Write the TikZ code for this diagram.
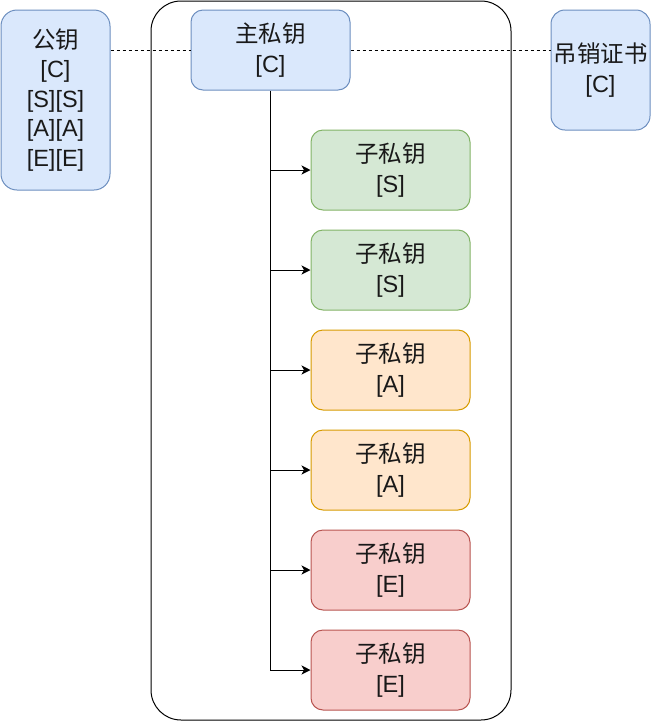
\documentclass[tikz,border=0pt]{standalone}
\usepackage{fontspec}
\setmainfont{Liberation Sans}
\newfontfamily\cjk{Noto Sans CJK SC}
\usetikzlibrary{arrows.meta}
\definecolor{bluefill}{HTML}{DAE8FC}\definecolor{bluedraw}{HTML}{6C8EBF}
\definecolor{greenfill}{HTML}{D5E8D4}\definecolor{greendraw}{HTML}{82B366}
\definecolor{orangefill}{HTML}{FFE6CC}\definecolor{orangedraw}{HTML}{D79B00}
\definecolor{redfill}{HTML}{F8CECC}\definecolor{reddraw}{HTML}{B85450}
\tikzset{
  box/.style={rounded corners=12pt, line width=1pt, align=center, inner sep=0pt,
    font=\fontsize{23.5}{29.5}\selectfont, text=black!90},
  bluebox/.style={box, fill=bluefill, draw=bluedraw},
  greenbox/.style={box, fill=greenfill, draw=greendraw, minimum width=159pt, minimum height=80pt},
  orangebox/.style={box, fill=orangefill, draw=orangedraw, minimum width=159pt, minimum height=80pt},
  redbox/.style={box, fill=redfill, draw=reddraw, minimum width=159pt, minimum height=80pt},
  link/.style={line width=1pt, dash pattern=on 3pt off 3pt},
  conn/.style={line width=1pt, -{Stealth[length=9pt,width=9pt,inset=2.5pt]}},
}
\begin{document}
\begin{tikzpicture}[x=1pt,y=-1pt]
\useasboundingbox (0,0) rectangle (651,721);
\node[draw, line width=1pt, rounded corners=30pt, minimum width=360pt, minimum height=719pt, inner sep=0pt] (cont) at (331,360.5) {};
\node[bluebox, rounded corners=16pt, minimum width=109pt, minimum height=180pt] (pub) at (55.5,100) {{\cjk 公钥}\\{[C]}\\{[S][S]}\\{[A][A]}\\{[E][E]}};
\node[bluebox, minimum width=159pt, minimum height=80pt] (master) at (270.5,50) {{\cjk 主私钥}\\{[C]}};
\node[bluebox, rounded corners=14pt, minimum width=99pt, minimum height=120pt] (rev) at (600.5,70) {{\cjk 吊销证书}\\{[C]}};
\node[greenbox] (c1) at (390.5,170) {{\cjk 子私钥}\\{[S]}};
\node[greenbox] (c2) at (390.5,270) {{\cjk 子私钥}\\{[S]}};
\node[orangebox] (c3) at (390.5,370) {{\cjk 子私钥}\\{[A]}};
\node[orangebox] (c4) at (390.5,470) {{\cjk 子私钥}\\{[A]}};
\node[redbox] (c5) at (390.5,570) {{\cjk 子私钥}\\{[E]}};
\node[redbox] (c6) at (390.5,670) {{\cjk 子私钥}\\{[E]}};
\draw[link] (pub.east |- master.west) -- (master.west);
\draw[link] (master.east) -- (master.east -| rev.west);
\draw[conn] (master.south) |- (c6.west);
\foreach \c in {c1,c2,c3,c4,c5}{
  \draw[conn] (master.south |- \c.west) -- (\c.west);
}
\end{tikzpicture}
\end{document}
